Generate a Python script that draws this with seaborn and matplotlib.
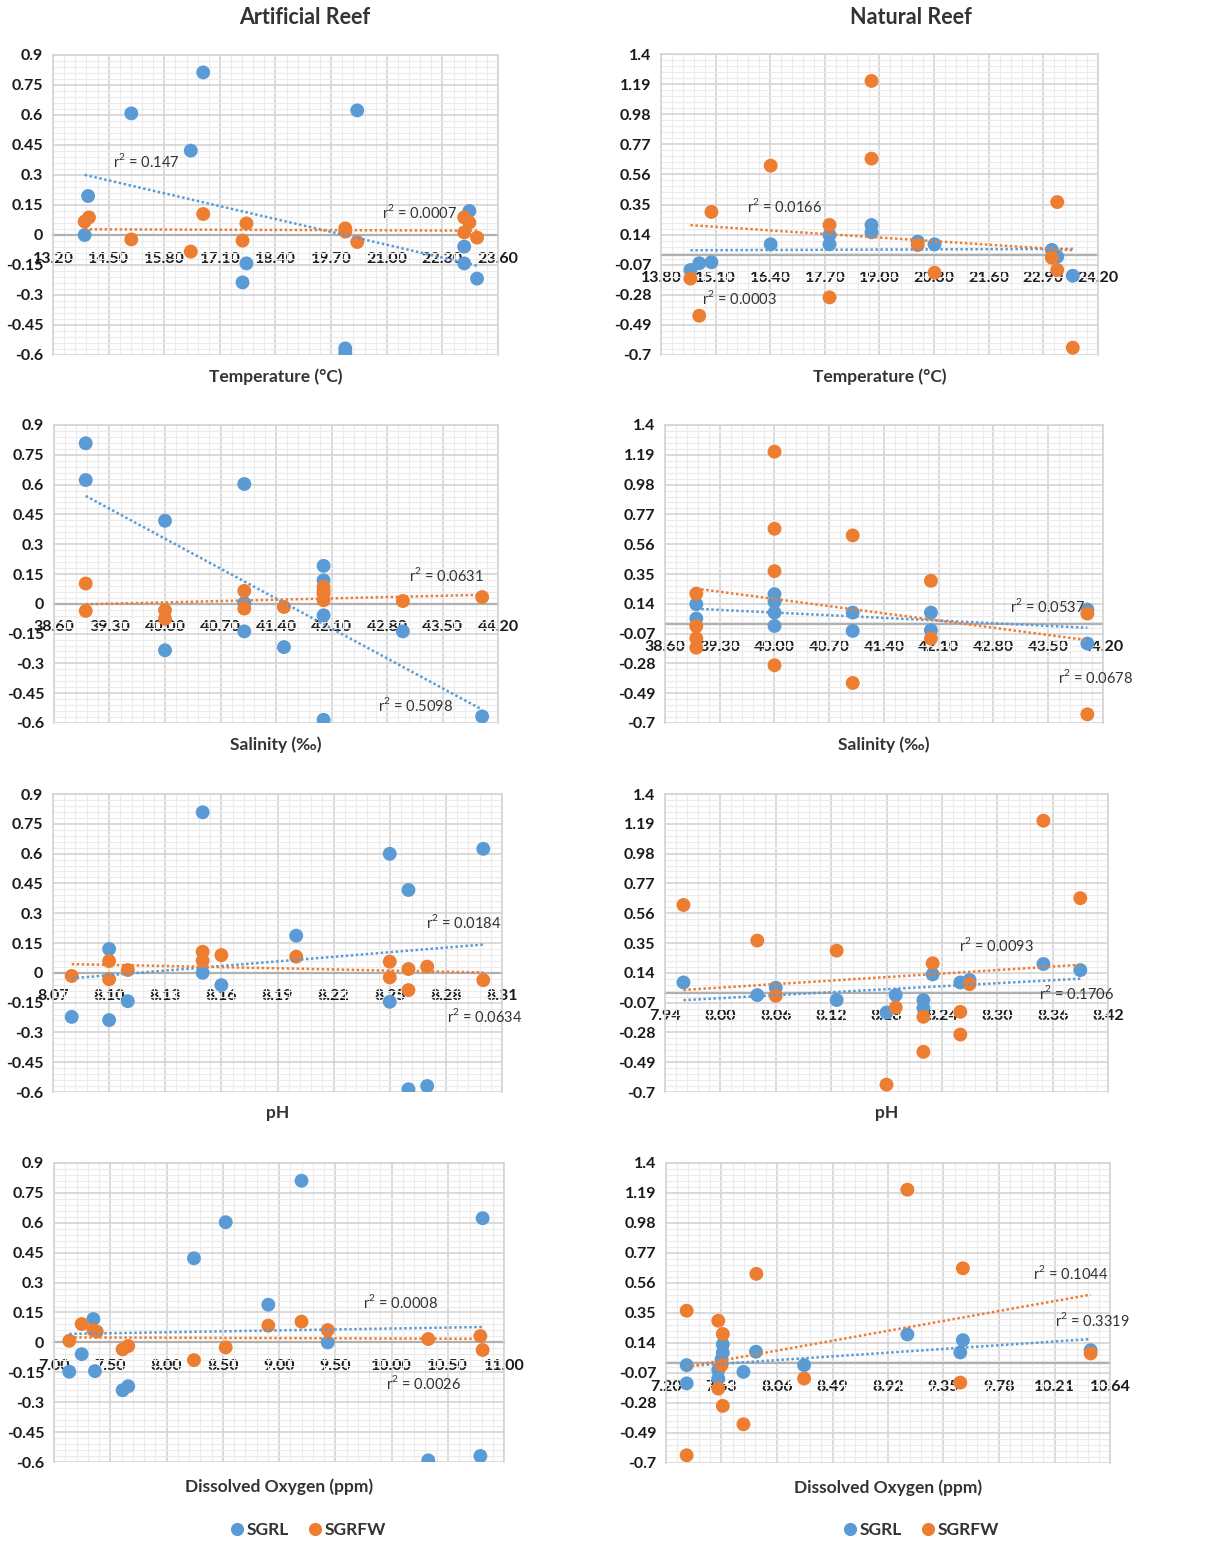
import numpy as np
import matplotlib
matplotlib.use("Agg")
import matplotlib.pyplot as plt
from matplotlib.ticker import FixedLocator, FixedFormatter, AutoMinorLocator
from matplotlib.lines import Line2D
import seaborn as sns

# ---------------- data ----------------
# Artificial reef - temperature
art_temp_sgrl_x = [13.94, 14.02, 15.03, 16.71, 16.42, 17.63, 17.72, 20.03, 20.03, 20.31, 22.93, 22.81, 22.81, 23.11]
art_temp_sgrl_y = [0.0, 0.195, 0.608, 0.813, 0.422, -0.237, -0.142, -0.567, -0.59, 0.623, 0.12, -0.058, -0.142, -0.218]
art_temp_sgrfw_x = [13.94, 14.04, 15.03, 16.42, 16.71, 17.63, 17.72, 20.03, 20.03, 20.31, 22.81, 22.93, 22.81, 23.11]
art_temp_sgrfw_y = [0.067, 0.088, -0.022, -0.083, 0.105, -0.028, 0.058, 0.033, 0.017, -0.035, 0.088, 0.062, 0.013, -0.013]

# Natural reef - temperature
nat_temp_sgrl_x = [14.5, 14.71, 15.0, 16.41, 17.81, 17.81, 18.81, 18.81, 19.91, 20.31, 23.1, 23.23, 23.6]
nat_temp_sgrl_y = [-0.107, -0.06, -0.053, 0.072, 0.137, 0.072, 0.207, 0.156, 0.091, 0.072, 0.033, -0.014, -0.147]
nat_temp_sgrfw_x = [14.5, 14.71, 15.0, 16.41, 17.81, 17.81, 18.81, 18.81, 19.91, 20.31, 23.1, 23.23, 23.23, 23.6]
nat_temp_sgrfw_y = [-0.167, -0.426, 0.298, 0.621, 0.207, -0.298, 1.212, 0.67, 0.067, -0.126, -0.021, -0.107, 0.367, -0.649]

# Artificial reef - salinity
art_sal_sgrl_x = [39.0, 39.0, 40.0, 40.0, 41.0, 41.0, 41.0, 41.5, 42.0, 42.0, 42.0, 42.0, 43.0, 44.0]
art_sal_sgrl_y = [0.808, 0.623, 0.418, -0.234, 0.603, 0.004, -0.139, -0.218, 0.191, 0.118, -0.058, -0.584, -0.139, -0.567]
art_sal_sgrfw_x = [39.0, 39.0, 40.0, 40.0, 41.0, 41.0, 41.5, 42.0, 42.0, 42.0, 42.0, 43.0, 44.0]
art_sal_sgrfw_y = [0.102, -0.036, -0.033, -0.075, 0.065, -0.024, -0.016, 0.085, 0.065, 0.051, 0.018, 0.014, 0.034]

# Natural reef - salinity
nat_sal_sgrl_x = [39.0, 39.0, 40.0, 40.0, 40.0, 40.0, 41.0, 41.0, 42.0, 42.0, 44.0, 44.0]
nat_sal_sgrl_y = [0.137, 0.036, 0.208, 0.154, 0.078, -0.016, 0.078, -0.051, 0.078, -0.046, 0.1, -0.14]
nat_sal_sgrfw_x = [39.0, 39.0, 39.0, 39.0, 40.0, 40.0, 40.0, 40.0, 41.0, 41.0, 42.0, 42.0, 44.0, 44.0]
nat_sal_sgrfw_y = [0.212, -0.018, -0.103, -0.169, 1.212, 0.669, 0.37, -0.293, 0.622, -0.418, 0.302, -0.105, 0.071, -0.639]

# Artificial reef - pH
art_ph_sgrl_x = [8.08, 8.10, 8.10, 8.11, 8.15, 8.15, 8.16, 8.20, 8.25, 8.25, 8.26, 8.26, 8.27, 8.30]
art_ph_sgrl_y = [-0.222, 0.12, -0.238, -0.143, 0.808, 0.0, -0.062, 0.187, 0.599, -0.146, 0.417, -0.586, -0.57, 0.624]
art_ph_sgrfw_x = [8.08, 8.10, 8.10, 8.11, 8.15, 8.15, 8.16, 8.20, 8.25, 8.25, 8.26, 8.26, 8.27, 8.30]
art_ph_sgrfw_y = [-0.016, 0.059, -0.032, 0.014, 0.106, 0.061, 0.089, 0.081, 0.056, -0.023, 0.019, -0.087, 0.031, -0.037]

# Natural reef - pH
nat_ph_sgrl_x = [7.96, 8.04, 8.06, 8.126, 8.18, 8.19, 8.22, 8.22, 8.23, 8.26, 8.27, 8.35, 8.39]
nat_ph_sgrl_y = [0.072, -0.017, 0.035, -0.052, -0.14, -0.017, -0.052, -0.107, 0.129, 0.072, 0.089, 0.202, 0.159]
nat_ph_sgrfw_x = [7.96, 8.04, 8.06, 8.126, 8.18, 8.19, 8.22, 8.22, 8.23, 8.26, 8.26, 8.27, 8.35, 8.39]
nat_ph_sgrfw_y = [0.618, 0.367, -0.022, 0.296, -0.648, -0.104, -0.17, -0.417, 0.207, -0.135, -0.295, 0.06, 1.212, 0.666]

# Artificial reef - dissolved oxygen
art_do_sgrl_x = [7.136, 7.246, 7.35, 7.364, 7.61, 7.66, 8.244, 8.526, 8.905, 9.2, 9.433, 10.327, 10.79, 10.81]
art_do_sgrl_y = [-0.147, -0.059, 0.117, -0.144, -0.24, -0.22, 0.422, 0.603, 0.189, 0.811, 0.0, -0.592, -0.57, 0.623]
art_do_sgrfw_x = [7.136, 7.246, 7.35, 7.38, 7.61, 7.66, 8.244, 8.526, 8.905, 9.2, 9.433, 10.327, 10.79, 10.81]
art_do_sgrfw_y = [0.008, 0.092, 0.062, 0.054, -0.035, -0.018, -0.089, -0.025, 0.084, 0.104, 0.062, 0.017, 0.032, -0.038]

# Natural reef - dissolved oxygen
nat_do_sgrl_x = [7.36, 7.36, 7.605, 7.605, 7.64, 7.64, 7.63, 7.8, 7.897, 8.27, 9.07, 9.48, 9.5, 10.49]
nat_do_sgrl_y = [-0.015, -0.143, -0.05, -0.108, 0.13, 0.072, 0.025, -0.062, 0.079, -0.015, 0.2, 0.074, 0.16, 0.09]
nat_do_sgrfw_x = [7.36, 7.36, 7.605, 7.605, 7.64, 7.63, 7.64, 7.8, 7.9, 8.27, 9.07, 9.48, 9.5, 10.49]
nat_do_sgrfw_y = [0.366, -0.646, 0.296, -0.179, 0.203, -0.015, -0.3, -0.429, 0.624, -0.108, 1.213, -0.137, 0.663, 0.067]

# tick labels
art_y_ticks = ["0.9", "0.75", "0.6", "0.45", "0.3", "0.15", "0", "-0.15", "-0.3", "-0.45", "-0.6"]
nat_y_ticks = ["1.4", "1.19", "0.98", "0.77", "0.56", "0.35", "0.14", "-0.07", "-0.28", "-0.49", "-0.7"]
art_temp_ticks = ["13.20", "14.50", "15.80", "17.10", "18.40", "19.70", "21.00", "22.30", "23.60"]
nat_temp_ticks = ["13.80", "15.10", "16.40", "17.70", "19.00", "20.30", "21.60", "22.90", "24.20"]
sal_ticks = ["38.60", "39.30", "40.00", "40.70", "41.40", "42.10", "42.80", "43.50", "44.20"]
art_ph_ticks = ["8.07", "8.10", "8.13", "8.16", "8.19", "8.22", "8.25", "8.28", "8.31"]
nat_ph_ticks = ["7.94", "8.00", "8.06", "8.12", "8.18", "8.24", "8.30", "8.36", "8.42"]
art_do_ticks = ["7.00", "7.50", "8.00", "8.50", "9.00", "9.50", "10.00", "10.50", "11.00"]
nat_do_ticks = ["7.20", "7.63", "8.06", "8.49", "8.92", "9.35", "9.78", "10.21", "10.64"]

col_titles = ["Artificial Reef", "Natural Reef"]
row_labels = ["Temperature (°C)", "Salinity (‰)", "pH", "Dissolved Oxygen (ppm)"]
series_names = ["SGRL", "SGRFW"]

# r² annotation values
r2_values = [
    ["0.147", "0.0007"],
    ["0.0166", "0.0003"],
    ["0.0631", "0.5098"],
    ["0.0537", "0.0678"],
    ["0.0184", "0.0634"],
    ["0.0093", "0.1706"],
    ["0.0008", "0.0026"],
    ["0.1044", "0.3319"],
]

# ---------------- style ----------------
sns.set_theme(style="white")
plt.rcParams["font.family"] = ["Lato", "DejaVu Sans"]

BLUE = "#5B9BD5"
ORANGE = "#ED7D31"
W, H = 1218, 1542

fig = plt.figure(figsize=(W / 100, H / 100), dpi=100)
fig.patch.set_facecolor("white")

# panel layout in pixels (left, right, top, bottom)
boxes = [
    (53, 498, 55, 355), (661, 1098, 54, 355),
    (54, 498, 425, 723), (665, 1103, 425, 723),
    (53, 502, 794, 1092), (665, 1108, 794, 1092),
    (54, 504, 1163, 1462), (666, 1110, 1163, 1463),
]
label_y = [377, 377, 745, 745, 1113, 1113, 1487, 1488]

panels = [
    (art_temp_sgrl_x, art_temp_sgrl_y, art_temp_sgrfw_x, art_temp_sgrfw_y, art_temp_ticks, art_y_ticks),
    (nat_temp_sgrl_x, nat_temp_sgrl_y, nat_temp_sgrfw_x, nat_temp_sgrfw_y, nat_temp_ticks, nat_y_ticks),
    (art_sal_sgrl_x, art_sal_sgrl_y, art_sal_sgrfw_x, art_sal_sgrfw_y, sal_ticks, art_y_ticks),
    (nat_sal_sgrl_x, nat_sal_sgrl_y, nat_sal_sgrfw_x, nat_sal_sgrfw_y, sal_ticks, nat_y_ticks),
    (art_ph_sgrl_x, art_ph_sgrl_y, art_ph_sgrfw_x, art_ph_sgrfw_y, art_ph_ticks, art_y_ticks),
    (nat_ph_sgrl_x, nat_ph_sgrl_y, nat_ph_sgrfw_x, nat_ph_sgrfw_y, nat_ph_ticks, nat_y_ticks),
    (art_do_sgrl_x, art_do_sgrl_y, art_do_sgrfw_x, art_do_sgrfw_y, art_do_ticks, art_y_ticks),
    (nat_do_sgrl_x, nat_do_sgrl_y, nat_do_sgrfw_x, nat_do_sgrfw_y, nat_do_ticks, nat_y_ticks),
]

# r² label positions (data coords, left edge)
r2_pos = [
    [(14.6, 0.37), (20.88, 0.117)],
    [(15.85, 0.34), (14.78, -0.305)],
    [(43.08, 0.144), (42.69, -0.507)],
    [(43.01, 0.123), (43.63, -0.376)],
    [(8.2696, 0.258), (8.2806, -0.217)],
    [(8.259, 0.336), (8.345, -0.005)],
    [(9.75, 0.201), (9.95, -0.206)],
    [(10.046, 0.633), (10.214, 0.301)],
]

axes = []
for i, (bx, by, ox, oy, xt, yt) in enumerate(panels):
    l, r, t, b = boxes[i]
    ax = fig.add_axes([l / W, 1 - b / H, (r - l) / W, (b - t) / H])
    axes.append(ax)
    xs = [float(s) for s in xt]
    ys = [float(s) for s in yt]

    sns.scatterplot(x=bx, y=by, color=BLUE, s=100, edgecolor="none", ax=ax, zorder=3)
    sns.scatterplot(x=ox, y=oy, color=ORANGE, s=100, edgecolor="none", ax=ax, zorder=4)
    sns.regplot(x=np.array(bx), y=np.array(by), scatter=False, ci=None, truncate=True, ax=ax,
                line_kws=dict(color=BLUE, lw=1.8, ls=(0, (1, 1)), zorder=5))
    sns.regplot(x=np.array(ox), y=np.array(oy), scatter=False, ci=None, truncate=True, ax=ax,
                line_kws=dict(color=ORANGE, lw=1.8, ls=(0, (1, 1)), zorder=5))

    ax.set_xlim(xs[0], xs[-1])
    ax.set_ylim(min(ys), max(ys))
    ax.xaxis.set_major_locator(FixedLocator(xs))
    ax.xaxis.set_major_formatter(FixedFormatter(xt))
    ax.yaxis.set_major_locator(FixedLocator(ys))
    ax.yaxis.set_major_formatter(FixedFormatter(yt))
    ax.xaxis.set_minor_locator(AutoMinorLocator(5))
    ax.yaxis.set_minor_locator(AutoMinorLocator(5))
    ax.set_xlabel("")
    ax.set_ylabel("")

    ax.grid(which="major", color="#d4d4d4", lw=1.2)
    ax.grid(which="minor", color="#ebebeb", lw=0.8)
    ax.set_axisbelow(True)

    for s in ["top", "left", "right"]:
        ax.spines[s].set_color("#d4d4d4")
        ax.spines[s].set_linewidth(1.2)
    ax.spines["bottom"].set_position(("data", 0))
    ax.spines["bottom"].set_color("#b0b0b0")
    ax.spines["bottom"].set_linewidth(1.6)
    ax.spines["bottom"].set_zorder(2)

    ax.tick_params(axis="x", which="both", length=0, pad=12, labelsize=11.5, colors="#1a1a1a")
    ax.tick_params(axis="y", which="both", length=0, pad=7, labelsize=11.5, colors="#1a1a1a")
    for lab in ax.get_xticklabels() + ax.get_yticklabels():
        lab.set_fontweight("bold")

    for val, (px, py) in zip(r2_values[i], r2_pos[i]):
        ax.text(px, py, r"r$^{\mathregular{2}}$ = " + val, fontsize=10.5, color="#333333",
                ha="left", va="center", clip_on=False, zorder=6)

    fig.text(((l + r) / 2) / W, 1 - label_y[i] / H, row_labels[i // 2],
             ha="center", va="center", fontsize=12.5, fontweight="bold", color="#333333")

# column titles
fig.text(305 / W, 1 - 18 / H, col_titles[0], ha="center", va="center",
         fontsize=15.5, fontweight="bold", color="#333333")
fig.text(911 / W, 1 - 18 / H, col_titles[1], ha="center", va="center",
         fontsize=15.5, fontweight="bold", color="#333333")

# legends
handles = [Line2D([], [], ls="none", marker="o", markersize=9.5, color=BLUE, markeredgecolor="none"),
           Line2D([], [], ls="none", marker="o", markersize=9.5, color=ORANGE, markeredgecolor="none")]
for cx in (307, 920):
    fig.legend(handles, series_names, loc="center", bbox_to_anchor=(cx / W, 1 - 1530 / H),
               ncol=2, frameon=False, handletextpad=0.05, columnspacing=1.0,
               handlelength=1.0, prop=dict(weight="bold", size=12.5), labelcolor="#333333")

fig.savefig("out.png", dpi=100, facecolor="white")
